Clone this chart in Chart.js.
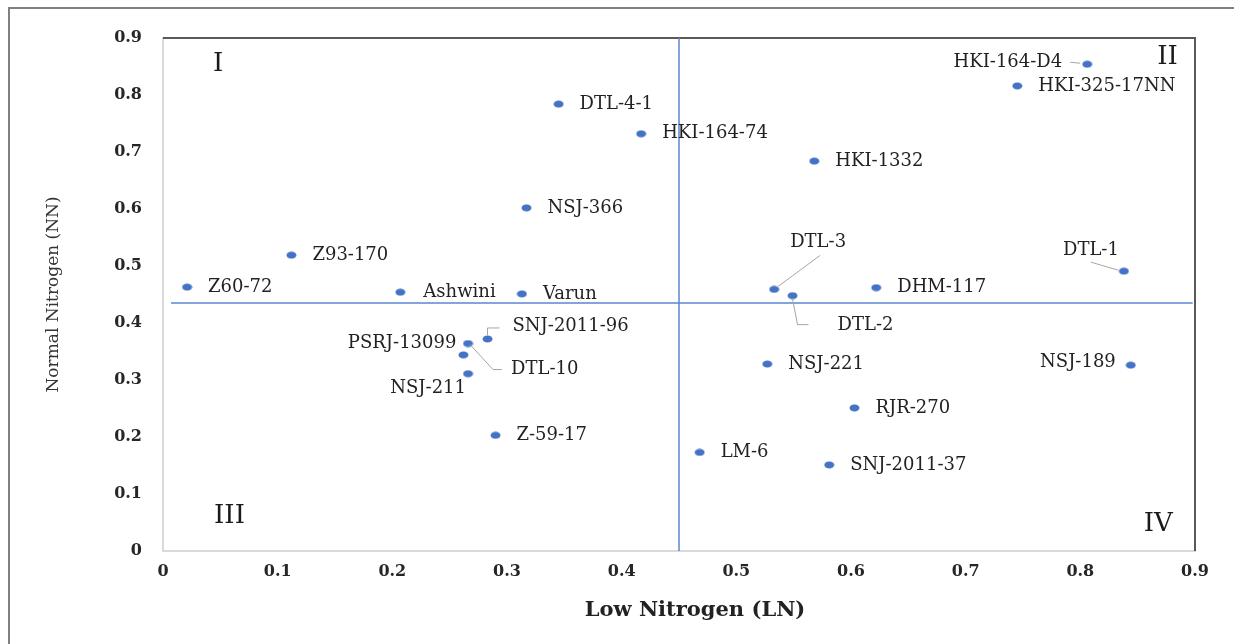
<!DOCTYPE html>
<html>
<head>
<meta charset="utf-8">
<script src="https://cdn.jsdelivr.net/npm/chart.js@4/dist/chart.umd.min.js"></script>
<style>
  html, body { margin: 0; padding: 0; background: #fff; }
  #wrap { width: 1234px; height: 644px; }
</style>
</head>
<body>
<div id="wrap"><canvas id="chart"></canvas></div>
<script>
// genotype names and their values (LN on x, NN on y)
const genotypes = ['Z60-72', 'Z93-170', 'Ashwini', 'Varun', 'NSJ-366', 'DTL-4-1', 'HKI-164-74', 'HKI-1332',
  'HKI-164-D4', 'HKI-325-17NN', 'DTL-1', 'DHM-117', 'DTL-3', 'DTL-2', 'SNJ-2011-96', 'PSRJ-13099',
  'DTL-10', 'NSJ-211', 'Z-59-17', 'LM-6', 'NSJ-221', 'RJR-270', 'SNJ-2011-37', 'NSJ-189'];
const lowN = [0.021, 0.112, 0.207, 0.313, 0.317, 0.345, 0.417, 0.568,
  0.806, 0.745, 0.838, 0.622, 0.533, 0.549, 0.283, 0.262,
  0.266, 0.266, 0.290, 0.468, 0.527, 0.603, 0.581, 0.844];
const normalN = [0.463, 0.519, 0.454, 0.451, 0.602, 0.784, 0.732, 0.684,
  0.854, 0.816, 0.491, 0.462, 0.459, 0.448, 0.372, 0.344,
  0.364, 0.311, 0.203, 0.173, 0.328, 0.251, 0.151, 0.326];

const tickLabels = ['0', '0.1', '0.2', '0.3', '0.4', '0.5', '0.6', '0.7', '0.8', '0.9'];

// quadrant dividing lines
const splitLN = 0.45;
const splitNN = 0.435;
const vLineNN = [0, 0.9];
const hLineLN = [0.007, 0.898];

// quadrant names and where they sit (data units)
const quadrants = ['I', 'II', 'III', 'IV'];
const quadrantLN = [0.048, 0.876, 0.058, 0.868];
const quadrantNN = [0.854, 0.867, 0.061, 0.047];

// label placement (pixels from the point); default is to the right
const placement = {
  'Ashwini': { dx: 23 },
  'HKI-164-D4': { dx: -25, dy: -2, align: 'right', leader: [[-17, -2], [-7, -1]] },
  'DTL-1': { dx: -5, dy: -21, align: 'right', leader: [[-33, -9], [-6, -1]] },
  'DTL-3': { dx: 16, dy: -47, leader: [[4, -3], [46, -34]] },
  'DTL-2': { dx: 45, dy: 30, leader: [[0, 3], [5, 29], [16, 29]] },
  'SNJ-2011-96': { dx: 25, dy: -13, leader: [[0, -4], [0, -11], [12, -11]] },
  'PSRJ-13099': { dx: -7, dy: -12, align: 'right' },
  'DTL-10': { dx: 43, dy: 26, leader: [[2, 1], [25, 26], [34, 26]] },
  'NSJ-211': { dx: -2, dy: 15, align: 'right' },
  'NSJ-189': { dx: -15, dy: -3, align: 'right' }
};

const blue = '#4472C4';
const serif = '"DejaVu Serif", "Liberation Serif", serif';

// slightly wide marker, like the original
const dot = document.createElement('canvas');
dot.width = 11; dot.height = 8;
(function () {
  const c = dot.getContext('2d');
  c.fillStyle = blue;
  c.beginPath();
  c.ellipse(5.5, 4, 5, 3.5, 0, 0, Math.PI * 2);
  c.fill();
})();

const framePlugin = {
  id: 'frame',
  beforeDraw(chart) {
    const ctx = chart.ctx;
    ctx.save();
    ctx.fillStyle = '#fff';
    ctx.fillRect(0, 0, chart.width, chart.height);
    ctx.strokeStyle = '#808080';
    ctx.lineWidth = 2;
    ctx.beginPath();
    ctx.moveTo(9, chart.height);
    ctx.lineTo(9, 8);
    ctx.lineTo(chart.width, 8);
    ctx.stroke();
    ctx.restore();
  },
  beforeDatasetsDraw(chart) {
    const { ctx, chartArea: a } = chart;
    ctx.save();
    ctx.strokeStyle = '#595959';
    ctx.lineWidth = 2;
    ctx.beginPath();
    ctx.moveTo(a.left, a.top);
    ctx.lineTo(a.right, a.top);
    ctx.lineTo(a.right, a.bottom);
    ctx.stroke();
    ctx.restore();
  }
};

const labelPlugin = {
  id: 'pointLabels',
  afterDatasetsDraw(chart) {
    const ctx = chart.ctx;
    const meta = chart.getDatasetMeta(0);
    const xs = chart.scales.x, ys = chart.scales.y;
    ctx.save();
    ctx.textBaseline = 'middle';
    ctx.font = '18px ' + serif;
    meta.data.forEach((pt, i) => {
      const p = Object.assign({ dx: 21, dy: 0, align: 'left' }, placement[genotypes[i]] || {});
      if (p.leader) {
        ctx.strokeStyle = '#a6a6a6';
        ctx.lineWidth = 1;
        ctx.beginPath();
        p.leader.forEach(([lx, ly], k) => {
          if (k === 0) ctx.moveTo(pt.x + lx, pt.y + ly);
          else ctx.lineTo(pt.x + lx, pt.y + ly);
        });
        ctx.stroke();
      }
      ctx.fillStyle = '#222';
      ctx.textAlign = p.align;
      ctx.fillText(genotypes[i], pt.x + p.dx, pt.y + p.dy);
    });

    ctx.font = '26px ' + serif;
    ctx.fillStyle = '#1a1a1a';
    ctx.textAlign = 'center';
    quadrants.forEach((q, i) => {
      ctx.fillText(q, xs.getPixelForValue(quadrantLN[i]), ys.getPixelForValue(quadrantNN[i]));
    });

    // x axis title, sits a bit right of centre in the original
    ctx.font = 'bold 21px ' + serif;
    ctx.fillStyle = '#222';
    ctx.fillText('Low Nitrogen (LN)', 695, 611);
    ctx.restore();
  }
};

new Chart(document.getElementById('chart'), {
  type: 'scatter',
  data: {
    datasets: [
      {
        label: 'Genotypes',
        data: lowN.map((v, i) => ({ x: v, y: normalN[i] })),
        pointStyle: dot,
        pointRadius: 5
      },
      {
        label: 'LN split',
        data: vLineNN.map(v => ({ x: splitLN, y: v })),
        showLine: true,
        borderColor: '#5b86d0',
        borderWidth: 1.5,
        pointRadius: 0
      },
      {
        label: 'NN split',
        data: hLineLN.map(v => ({ x: v, y: splitNN })),
        showLine: true,
        borderColor: '#5b86d0',
        borderWidth: 1.5,
        pointRadius: 0
      }
    ]
  },
  options: {
    responsive: true,
    maintainAspectRatio: false,
    animation: false,
    layout: { padding: { top: 38, right: 39, left: 0, bottom: 0 } },
    plugins: {
      legend: { display: false },
      tooltip: { enabled: false }
    },
    scales: {
      x: {
        min: 0, max: 0.9,
        grid: { display: false, drawTicks: false },
        border: { color: '#d9d9d9', width: 2 },
        ticks: {
          stepSize: 0.1,
          padding: 11,
          color: '#262626',
          font: { family: serif, size: 16, weight: 'bold' },
          callback: v => tickLabels[Math.round(v * 10)]
        },
        afterFit: s => { s.height = 93; }
      },
      y: {
        min: 0, max: 0.9,
        grid: { display: false, drawTicks: false },
        border: { color: '#d9d9d9', width: 2 },
        ticks: {
          stepSize: 0.1,
          padding: 21,
          color: '#262626',
          font: { family: serif, size: 16, weight: 'bold' },
          callback: v => tickLabels[Math.round(v * 10)]
        },
        title: {
          display: true,
          text: 'Normal Nitrogen (NN)',
          color: '#333',
          font: { family: serif, size: 17 },
          padding: { top: 43, bottom: 0 }
        },
        afterFit: s => { s.width = 163; }
      }
    }
  },
  plugins: [framePlugin, labelPlugin]
});
</script>
</body>
</html>
